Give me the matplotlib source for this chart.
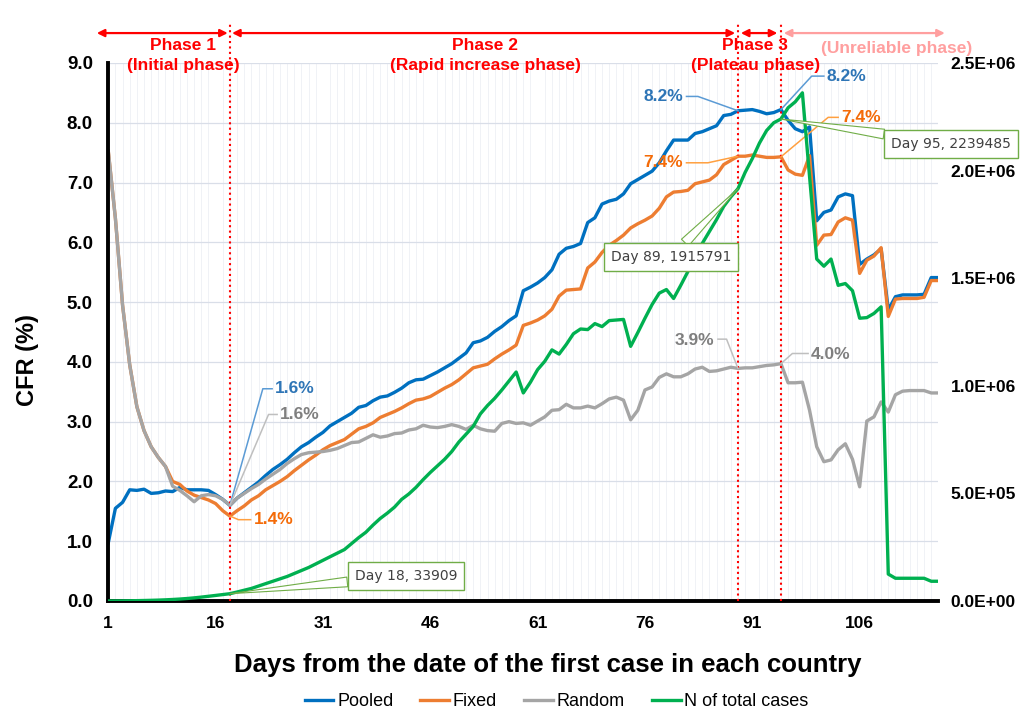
import numpy as np
import matplotlib
matplotlib.use("Agg")
import matplotlib.pyplot as plt
from matplotlib.ticker import FuncFormatter

plt.rcParams['font.family'] = ['Liberation Sans', 'DejaVu Sans']

days = list(range(1, 118))

pooled = [0.97, 1.55, 1.65, 1.86, 1.85, 1.87, 1.80, 1.81, 1.84, 1.83,
          1.90, 1.86, 1.86, 1.86, 1.85, 1.78, 1.70, 1.60, 1.72, 1.81,
          1.90, 1.99, 2.10, 2.20, 2.28, 2.37, 2.48, 2.58, 2.65, 2.74,
          2.82, 2.93, 3.00, 3.07, 3.14, 3.24, 3.27, 3.35, 3.41, 3.43,
          3.49, 3.56, 3.65, 3.70, 3.71, 3.77, 3.83, 3.90, 3.97, 4.06,
          4.15, 4.32, 4.35, 4.41, 4.51, 4.59, 4.69, 4.77, 5.19, 5.25,
          5.32, 5.41, 5.54, 5.80, 5.90, 5.93, 5.98, 6.33, 6.41, 6.64,
          6.69, 6.72, 6.81, 6.98, 7.05, 7.12, 7.19, 7.33, 7.53, 7.71,
          7.71, 7.71, 7.82, 7.85, 7.90, 7.95, 8.12, 8.14, 8.20, 8.21,
          8.22, 8.19, 8.15, 8.17, 8.22, 8.04, 7.90, 7.85, 7.93, 6.36,
          6.50, 6.54, 6.76, 6.81, 6.78, 5.63, 5.72, 5.79, 5.89, 4.87,
          5.09, 5.12, 5.12, 5.12, 5.13, 5.41, 5.41]

fixed = [7.53, 6.40, 4.95, 3.95, 3.25, 2.85, 2.58, 2.40, 2.25, 2.00,
         1.95, 1.84, 1.77, 1.73, 1.69, 1.63, 1.51, 1.42, 1.51, 1.59,
         1.69, 1.76, 1.86, 1.93, 2.00, 2.08, 2.18, 2.27, 2.36, 2.44,
         2.53, 2.60, 2.65, 2.70, 2.79, 2.88, 2.92, 2.98, 3.07, 3.12,
         3.17, 3.23, 3.30, 3.36, 3.38, 3.42, 3.49, 3.56, 3.62, 3.70,
         3.80, 3.90, 3.93, 3.96, 4.05, 4.13, 4.20, 4.28, 4.61, 4.65,
         4.70, 4.77, 4.88, 5.10, 5.20, 5.21, 5.22, 5.57, 5.67, 5.83,
         5.95, 6.03, 6.12, 6.24, 6.31, 6.37, 6.44, 6.57, 6.76, 6.84,
         6.85, 6.87, 6.98, 7.01, 7.04, 7.13, 7.30, 7.37, 7.44, 7.44,
         7.46, 7.44, 7.42, 7.42, 7.43, 7.21, 7.14, 7.12, 7.45, 5.95,
         6.12, 6.13, 6.34, 6.41, 6.37, 5.48, 5.70, 5.77, 5.91, 4.76,
         5.05, 5.06, 5.06, 5.06, 5.08, 5.36, 5.36]

random_ = [7.53, 6.40, 4.95, 3.95, 3.25, 2.85, 2.58, 2.40, 2.25, 1.92,
           1.85, 1.76, 1.66, 1.76, 1.78, 1.76, 1.70, 1.60, 1.72, 1.80,
           1.88, 1.95, 2.04, 2.12, 2.20, 2.30, 2.38, 2.45, 2.48, 2.49,
           2.50, 2.52, 2.55, 2.60, 2.65, 2.66, 2.72, 2.78, 2.74, 2.76,
           2.80, 2.81, 2.86, 2.88, 2.94, 2.91, 2.90, 2.92, 2.95, 2.92,
           2.87, 2.94, 2.88, 2.85, 2.84, 2.97, 3.00, 2.97, 2.98, 2.94,
           3.01, 3.08, 3.19, 3.20, 3.29, 3.23, 3.23, 3.26, 3.23, 3.30,
           3.38, 3.41, 3.36, 3.03, 3.19, 3.53, 3.58, 3.74, 3.80, 3.75,
           3.75, 3.80, 3.88, 3.91, 3.84, 3.85, 3.88, 3.91, 3.89, 3.90,
           3.90, 3.92, 3.94, 3.95, 3.97, 3.65, 3.65, 3.66, 3.19, 2.58,
           2.33, 2.36, 2.53, 2.63, 2.37, 1.91, 3.01, 3.08, 3.33, 3.16,
           3.45, 3.51, 3.52, 3.52, 3.52, 3.48, 3.48]

total_cases = [150, 300, 600, 1000, 1600, 2300, 3100, 4100, 5400, 7000,
               9000, 11500, 14500, 18000, 21800, 25800, 29800, 33909, 41700, 50000,
               58300, 69400, 80600, 91700, 102800, 113900, 127800, 141700, 155600, 172200,
               188900, 205600, 222200, 238900, 266700, 294400, 319400, 352800, 383300, 408300,
               436100, 472200, 497200, 527800, 563900, 597200, 627800, 658300, 694400, 738900,
               775000, 811100, 869400, 908300, 941700, 980600, 1022200, 1063900, 966700, 1016700,
               1075000, 1113900, 1166700, 1147200, 1191700, 1241700, 1263900, 1261100, 1288900, 1275000,
               1302800, 1305600, 1308300, 1183300, 1247200, 1313900, 1377800, 1430600, 1447200, 1405600,
               1466700, 1530600, 1591700, 1661100, 1716700, 1772200, 1833300, 1877800, 1915791, 1991700,
               2055600, 2127800, 2186100, 2222200, 2239485, 2291700, 2319400, 2361100, 1972200, 1588900,
               1555600, 1588900, 1466700, 1475000, 1441700, 1313900, 1316700, 1336100, 1366700, 125000,
               105600, 105600, 105600, 105600, 105600, 91700, 91700]

phase_days = [18, 89, 95]
x_ticks = [1, 16, 31, 46, 61, 76, 91, 106]

C_BLUE = '#0070c0'
C_ORANGE = '#ed7d31'
C_GRAY = '#a5a5a5'
C_GREEN = '#00b050'

fig = plt.figure(figsize=(10.27, 7.13), dpi=100)
ax = fig.add_axes([0.1054, 0.1571, 0.8083, 0.7546])
ax2 = ax.twinx()

ax.set_xlim(1, 117)
ax.set_ylim(0, 9)
ax2.set_ylim(0, 2.5e6)

ax.set_yticks(np.arange(0, 9.5, 1.0))
ax.yaxis.set_major_formatter(FuncFormatter(lambda v, p: f'{v:.1f}'))
ax2.set_yticks(np.arange(0, 2.6e6, 5e5))
ax2.yaxis.set_major_formatter(FuncFormatter(lambda v, p: f'{v:.1E}'))
ax.set_xticks(x_ticks)
ax.set_xticks(days, minor=True)

ax.grid(axis='y', color='#d9dee8', lw=0.9)
ax.grid(axis='x', which='minor', color='#eef0f5', lw=0.6)
ax.set_axisbelow(True)

for s in ['top', 'right']:
    ax.spines[s].set_visible(False)
for s in ax2.spines.values():
    s.set_visible(False)
ax.spines['left'].set_linewidth(2.8)
ax.spines['bottom'].set_linewidth(2.8)

ax.tick_params(axis='both', which='both', length=0)
ax.tick_params(axis='y', pad=11, labelsize=13.5)
ax.tick_params(axis='x', pad=11, labelsize=12.5)
ax2.tick_params(axis='y', length=0, pad=9, labelsize=12.5)
for lab in ax.get_xticklabels() + ax.get_yticklabels() + ax2.get_yticklabels():
    lab.set_fontweight('bold')

l1, = ax.plot(days, pooled, color=C_BLUE, lw=2.4, label='Pooled')
l2, = ax.plot(days, fixed, color=C_ORANGE, lw=2.4, label='Fixed')
l3, = ax.plot(days, random_, color=C_GRAY, lw=2.4, label='Random')
l4, = ax2.plot(days, total_cases, color=C_GREEN, lw=2.4, label='N of total cases')

# phase separators
for d in phase_days:
    ax.plot([d, d], [0, 9.68], color='red', ls=(0, (1, 1.6)), lw=1.5, clip_on=False, zorder=5)

def phase_arrow(x0, x1, color):
    ax.annotate('', xy=(x1, 9.5), xytext=(x0, 9.5), annotation_clip=False,
                arrowprops=dict(arrowstyle='<|-|>', color=color, lw=1.6,
                                mutation_scale=11, shrinkA=0, shrinkB=0))

phase_arrow(-0.6, 17.7, 'red')
phase_arrow(18.3, 88.6, 'red')
phase_arrow(89.4, 94.5, 'red')
phase_arrow(95.4, 117.9, '#ff9f9f')

pkw = dict(ha='center', va='center', fontsize=12.5, fontweight='bold', clip_on=False)
ax.text(11.5, 9.30, 'Phase 1', color='red', **pkw)
ax.text(11.5, 8.96, '(Initial phase)', color='red', **pkw)
ax.text(53.7, 9.30, 'Phase 2', color='red', **pkw)
ax.text(53.7, 8.96, '(Rapid increase phase)', color='red', **pkw)
ax.text(91.4, 9.30, 'Phase 3', color='red', **pkw)
ax.text(91.4, 8.96, '(Plateau phase)', color='red', **pkw)
ax.text(111.2, 9.24, '(Unreliable phase)', color='#ff9f9f', **pkw)

# data labels with leader lines
def leader(pts, text, tx, ty, tcolor, lcolor, ha):
    ax.plot([p[0] for p in pts], [p[1] for p in pts], color=lcolor, lw=1.1,
            clip_on=False, zorder=6)
    ax.text(tx, ty, text, color=tcolor, ha=ha, va='center', fontsize=12.5,
            fontweight='bold', zorder=6)

leader([(18, 1.60), (22.6, 3.55), (23.9, 3.55)], '1.6%', 24.3, 3.55, '#2e75b6', '#5b9bd5', 'left')
leader([(18, 1.60), (23.4, 3.12), (24.6, 3.12)], '1.6%', 25.0, 3.12, '#7f7f7f', '#bfbfbf', 'left')
leader([(18, 1.42), (19.2, 1.36), (20.9, 1.36)], '1.4%', 21.3, 1.36, '#f46b08', '#ffa040', 'left')
leader([(89, 8.20), (83.4, 8.44), (81.8, 8.44)], '8.2%', 81.3, 8.44, '#2e75b6', '#5b9bd5', 'right')
leader([(95, 8.22), (99.3, 8.78), (101.0, 8.78)], '8.2%', 101.4, 8.78, '#2e75b6', '#5b9bd5', 'left')
leader([(89, 7.44), (84.8, 7.33), (81.8, 7.33)], '7.4%', 81.3, 7.33, '#f46b08', '#ffa040', 'right')
leader([(95, 7.43), (101.6, 8.09), (103.0, 8.09)], '7.4%', 103.4, 8.09, '#f46b08', '#ffa040', 'left')
leader([(89, 3.89), (87.4, 4.38), (86.2, 4.38)], '3.9%', 85.7, 4.35, '#7f7f7f', '#bfbfbf', 'right')
leader([(95, 3.97), (96.6, 4.14), (98.8, 4.14)], '4.0%', 99.2, 4.13, '#7f7f7f', '#bfbfbf', 'left')

# callouts for total cases
def callout(day, text, tx, ty):
    i = days.index(day)
    ax2.annotate(text, xy=(day, total_cases[i]), xytext=(tx, ty), ha='center', va='center',
                 fontsize=10, color='#404040', family='DejaVu Sans', annotation_clip=False,
                 bbox=dict(boxstyle='square,pad=0.5', fc='white', ec='#70ad47', lw=1),
                 arrowprops=dict(arrowstyle='wedge,tail_width=0.7', fc='white',
                                 ec='#70ad47', lw=0.8, shrinkA=0, shrinkB=0),
                 zorder=7)

callout(18, 'Day 18, 33909', 42.6, 116000)
callout(89, 'Day 89, 1915791', 79.6, 1598000)
callout(95, 'Day 95, 2239485', 118.8, 2124000)

fig.text(0.027, 0.495, 'CFR (%)', rotation=90, ha='center', va='center',
         fontsize=17, fontweight='bold')
fig.text(0.533, 0.067, 'Days from the date of the first case in each country',
         ha='center', va='center', fontsize=18.5, fontweight='bold')

fig.legend(handles=[l1, l2, l3, l4], loc='center', bbox_to_anchor=(0.542, 0.016),
           ncol=4, frameon=False, handlelength=1.6, handletextpad=0.2,
           columnspacing=1.5, prop={'size': 13})

fig.savefig('out.png', dpi=100)
